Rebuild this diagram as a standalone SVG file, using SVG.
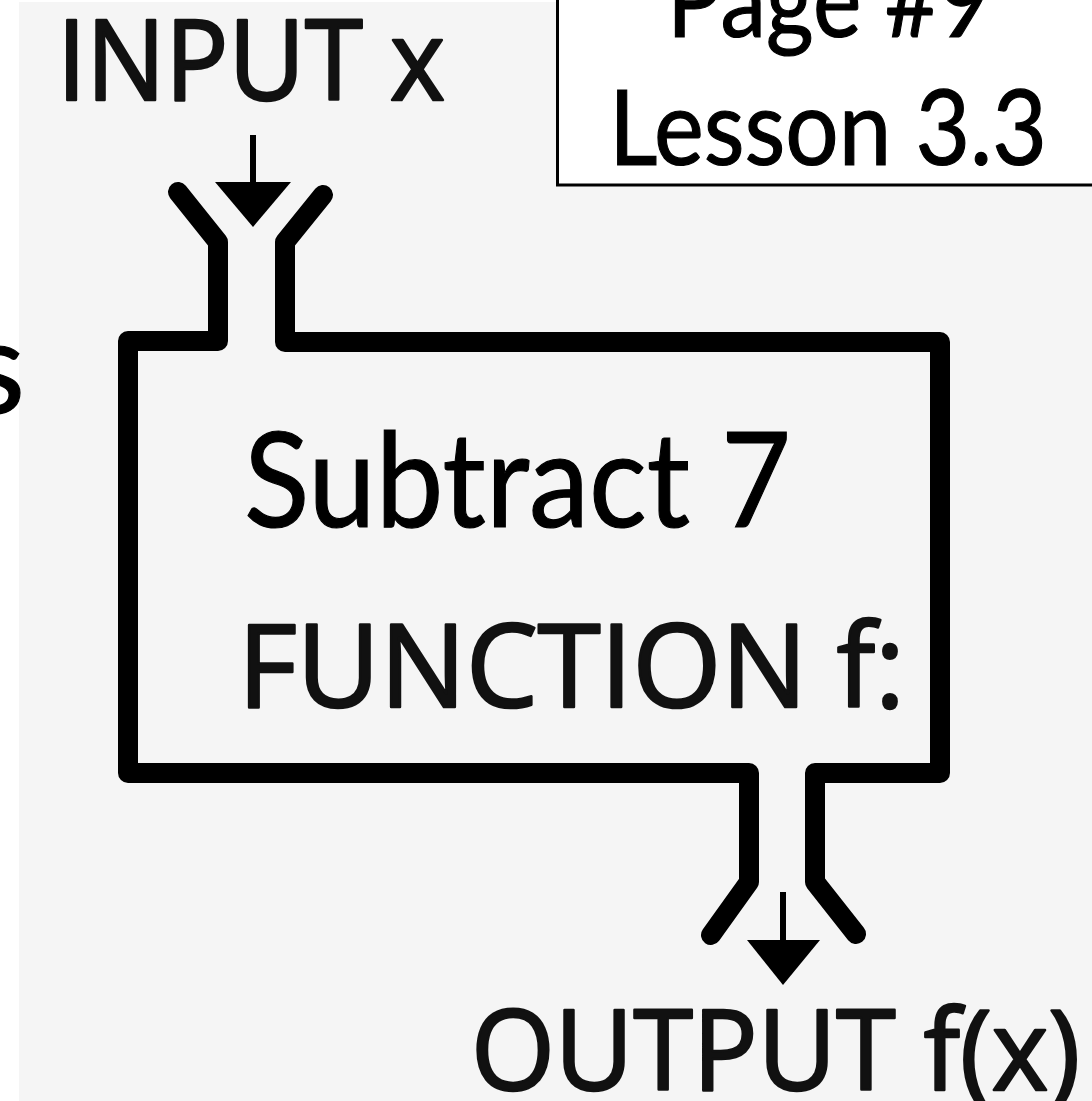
<svg xmlns="http://www.w3.org/2000/svg" width="1092" height="1101" viewBox="0 0 1092 1101">
  <defs>
    <style>
      .machine { fill: none; stroke: #000; stroke-width: 20; stroke-linecap: round; stroke-linejoin: round; }
      .shaft { stroke: #000; stroke-width: 6; }
      .head { fill: #000; }
      .lbl { font-family: "Open Sans", "Liberation Sans", sans-serif; fill: #111; stroke: #111; stroke-width: 2.6; stroke-linejoin: round; }
      .cal { font-family: "Lato", "Open Sans", "Liberation Sans", sans-serif; fill: #000; stroke: #000; stroke-width: 1.2; }
    </style>
  </defs>
  <rect x="0" y="0" width="1092" height="1101" fill="#ffffff"/>
  <rect x="19" y="2" width="1073" height="1099" fill="#f5f5f5"/>

  <g id="cut-text">
    <text class="cal" x="25" y="413" font-size="130" text-anchor="end">s</text>
  </g>

  <g id="lesson-box">
    <rect x="557.5" y="-10" width="600" height="195" fill="#ffffff" stroke="#000" stroke-width="3"/>
    <text class="cal" x="829" y="37" font-size="104" text-anchor="middle" textLength="324" lengthAdjust="spacingAndGlyphs">Page #9</text>
    <text class="cal" x="828" y="165" font-size="104" text-anchor="middle" textLength="438" lengthAdjust="spacingAndGlyphs">Lesson 3.3</text>
  </g>

  <g id="input-label">
    <text class="lbl" x="57" y="100" font-size="112" textLength="388" lengthAdjust="spacingAndGlyphs">INPUT x</text>
  </g>

  <g id="function-machine">
    <path class="machine" d="M178,192 L218,242 L218,341 L128,341 L128,773 L749,773 L749,882 L711,935"/>
    <path class="machine" d="M323,195 L285,242 L285,342 L940,342 L940,773 L815,773 L815,882 L856,934"/>
    <text class="cal" x="244" y="527" font-size="132" textLength="547" lengthAdjust="spacingAndGlyphs">Subtract 7</text>
    <text class="lbl" x="238" y="707" font-size="115" textLength="667" lengthAdjust="spacingAndGlyphs">FUNCTION f:</text>
  </g>

  <g id="output-label">
    <text class="lbl" x="471" y="1090" font-size="112" textLength="609" lengthAdjust="spacingAndGlyphs">OUTPUT f(x)</text>
  </g>

  <g id="connectors">
    <line class="shaft" x1="253" y1="135" x2="253" y2="186"/>
    <polygon class="head" points="215,182 291,182 253,227"/>
    <line class="shaft" x1="783" y1="892" x2="783" y2="944"/>
    <polygon class="head" points="747,940 820,940 783,985"/>
  </g>
</svg>
